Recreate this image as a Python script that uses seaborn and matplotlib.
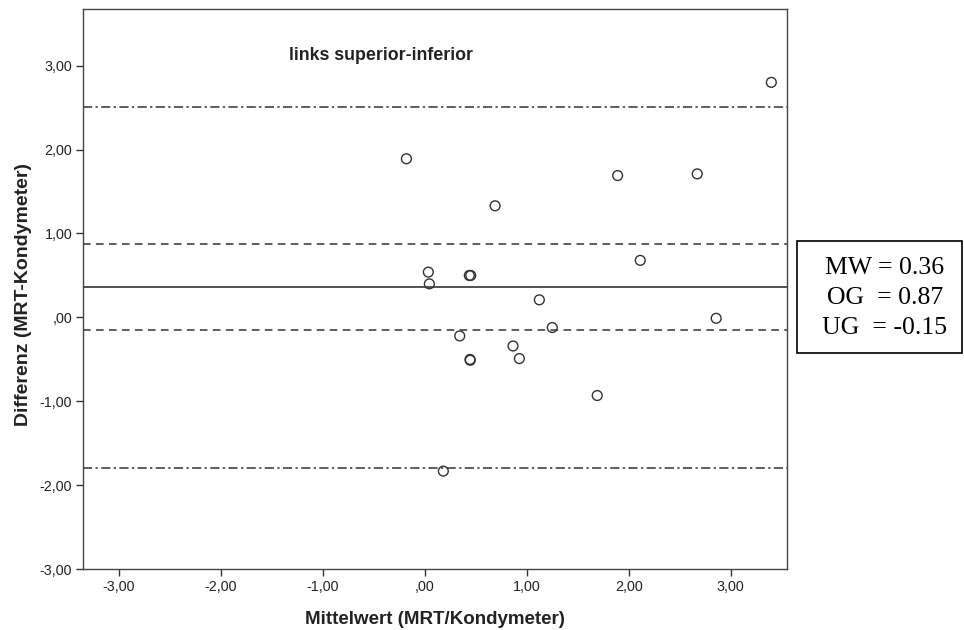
import matplotlib
matplotlib.use("Agg")
import matplotlib.pyplot as plt
import seaborn as sns
import pandas as pd
from matplotlib.patches import Rectangle
from matplotlib.ticker import FixedLocator, FuncFormatter

# --- data ---
mittelwert = [-0.18, 0.035, 0.045, 0.437, 0.451, 0.69, 1.124, 1.251, 0.343,
              0.444, 0.446, 0.866, 0.928, 1.692, 1.892, 2.114, 2.673, 2.859,
              0.182, 3.40]
differenz = [1.89, 0.54, 0.40, 0.50, 0.50, 1.33, 0.21, -0.12, -0.22,
             -0.50, -0.51, -0.34, -0.49, -0.93, 1.69, 0.68, 1.71, -0.01,
             -1.83, 2.80]
mean_diff = 0.36
ci_upper = 0.87
ci_lower = -0.15
loa_upper = 2.51
loa_lower = -1.79
tick_values = [-3, -2, -1, 0, 1, 2, 3]
title_text = "links superior-inferior"
x_label = "Mittelwert (MRT/Kondymeter)"
y_label = "Differenz (MRT-Kondymeter)"
box_lines = ["MW = 0.36", "OG  = 0.87", "UG  = -0.15"]

df = pd.DataFrame({"Mittelwert": mittelwert, "Differenz": differenz})

sns.set_theme(style="white")
plt.rcParams['font.family'] = ['Liberation Sans', 'DejaVu Sans']

fig = plt.figure(figsize=(9.64, 6.30), dpi=100)
ax = fig.add_axes([0.0864, 0.0963, 0.7296, 0.8889])

sns.scatterplot(data=df, x="Mittelwert", y="Differenz", ax=ax,
                marker="o", s=50, facecolor="none", edgecolor="#333333",
                linewidth=1.0, zorder=3)

line_col = "#333333"
ax.axhline(mean_diff, color="#222222", linewidth=1.1, zorder=2)
ax.axhline(ci_upper, color=line_col, linewidth=1.1, dashes=(5, 3.5), zorder=2)
ax.axhline(ci_lower, color=line_col, linewidth=1.1, dashes=(5, 3.5), zorder=2)
ax.axhline(loa_upper, color=line_col, linewidth=1.1, dashes=(6, 2.2, 1.5, 2.2), zorder=2)
ax.axhline(loa_lower, color=line_col, linewidth=1.1, dashes=(6, 2.2, 1.5, 2.2), zorder=2)

ax.set_xlim(-3.35, 3.55)
ax.set_ylim(-3.0, 3.67)

def fmt(v, pos=None):
    s = f"{v:.2f}".replace(".", ",")
    if s.startswith("0,"):
        s = s[1:]
    if s.startswith("-0,"):
        s = "-" + s[2:]
    return s

ax.xaxis.set_major_locator(FixedLocator(tick_values))
ax.yaxis.set_major_locator(FixedLocator(tick_values))
ax.xaxis.set_major_formatter(FuncFormatter(fmt))
ax.yaxis.set_major_formatter(FuncFormatter(fmt))
ax.tick_params(axis="both", which="major", direction="out", length=5,
               width=1.0, color="#333333", labelsize=10.3, labelcolor="#222222",
               bottom=True, left=True, pad=3)

for sp in ax.spines.values():
    sp.set_color("#444444")
    sp.set_linewidth(1.0)
    sp.set_visible(True)

ax.set_xlabel(x_label, fontsize=13.5, fontweight="bold", color="#222222", labelpad=12)
ax.set_ylabel(y_label, fontsize=14, fontweight="bold", color="#222222")
ax.yaxis.set_label_coords(-0.073, 0.49)

ax.text(0.292, 0.917, title_text, transform=ax.transAxes, ha="left", va="center",
        fontsize=12.8, fontweight="bold", color="#222222")

# annotation box in figure coordinates
rect = Rectangle((0.827, 0.440), 0.171, 0.177, transform=fig.transFigure,
                 facecolor="white", edgecolor="black", linewidth=1.2)
fig.patches.append(rect)
line_y = [1 - 268 / 630, 1 - 298 / 630, 1 - 328 / 630]
for txt, yy in zip(box_lines, line_y):
    fig.text(0.918, yy, txt, ha="center", va="center", fontsize=18.5,
             family=["Liberation Serif", "DejaVu Serif"], color="black")

fig.savefig("out.png", dpi=100)
